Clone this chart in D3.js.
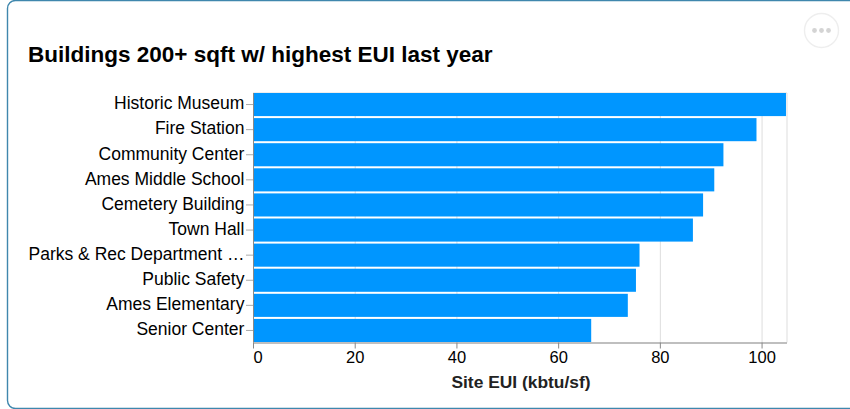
<!DOCTYPE html>
<html>
<head>
<meta charset="utf-8">
<script src="https://cdn.jsdelivr.net/npm/d3@7"></script>
<style>
html,body{margin:0;padding:0;background:#fff;overflow:hidden}
text{font-family:"Liberation Sans",Arial,sans-serif}
</style>
</head>
<body>
<svg id="c" width="850" height="409"></svg>
<script>
const categories = ["Historic Museum","Fire Station","Community Center","Ames Middle School","Cemetery Building","Town Hall","Parks & Rec Department …","Public Safety","Ames Elementary","Senior Center"];
const values = [104.8,99,92.5,90.7,88.5,86.5,76,75.3,73.7,66.5];
const xTicks = [0,20,40,60,80,100];
const titleText = "Buildings 200+ sqft w/ highest EUI last year";
const xTitle = "Site EUI (kbtu/sf)";

const svg = d3.select("#c");
const m = {l:253,r:787,t:93,b:342.5};
const x = d3.scaleLinear().domain([0,105]).range([m.l,m.r]);
const y = d3.scaleBand().domain(categories).range([m.t,m.b-0.5]).paddingInner(0.08).paddingOuter(0);

// card
svg.append("rect").attr("x",7.5).attr("y",0.5).attr("width",870).attr("height",408)
  .attr("rx",8).attr("fill","#fff").attr("stroke","#3f87ad").attr("stroke-width",1.4);

// options button
const bx=821.5, by=30.5;
svg.append("circle").attr("cx",bx).attr("cy",by).attr("r",17).attr("fill","#fff").attr("stroke","#eee").attr("stroke-width",1.4);
[-7,0,7].forEach(d=>svg.append("circle").attr("cx",bx+d).attr("cy",by).attr("r",2.4).attr("fill","#d4d4d4"));

svg.append("text").attr("x",28).attr("y",62).attr("font-size",22.5).attr("font-weight","bold").attr("fill","#000").text(titleText);

// grid
svg.append("g").selectAll("line").data(xTicks).join("line")
  .attr("x1",d=>x(d)+0.5).attr("x2",d=>x(d)+0.5).attr("y1",m.t).attr("y2",m.b)
  .attr("stroke","#ddd").attr("stroke-width",1);
svg.append("line").attr("x1",m.r).attr("x2",m.r).attr("y1",m.t).attr("y2",m.b).attr("stroke","#ddd");
svg.append("line").attr("x1",m.l).attr("x2",m.r).attr("y1",m.t).attr("y2",m.t).attr("stroke","#ddd");

// bars
svg.append("g").selectAll("rect").data(categories).join("rect")
  .attr("x",x(0)).attr("y",d=>y(d)).attr("height",y.bandwidth())
  .attr("width",(d,i)=>x(values[i])-x(0)).attr("fill","#0096ff");

// y axis
const ya = svg.append("g").attr("transform",`translate(${m.l},0)`).call(d3.axisLeft(y).tickSize(7).tickPadding(1.6));
ya.select(".domain").attr("stroke","#888").attr("stroke-width",1).attr("d",`M0.5,${m.t}V${m.b}`);
ya.selectAll(".tick line").attr("stroke","#aaa");
ya.selectAll(".tick text").attr("font-size",17.5).attr("y",-0.8).attr("fill","#000").style("font-family",'"Liberation Sans",Arial,sans-serif');

// x axis
const xa = svg.append("g").attr("transform",`translate(0,${m.b})`).call(d3.axisBottom(x).tickValues(xTicks).tickFormat(d3.format("d")).tickSize(6).tickPadding(3));
xa.select(".domain").attr("stroke","#aaa").attr("stroke-width",1.4).attr("d",`M${m.l},0.5H${m.r}`);
xa.selectAll(".tick line").attr("stroke","#888");
xa.selectAll(".tick text").attr("font-size",16.5).attr("fill","#000").style("font-family",'"Liberation Sans",Arial,sans-serif')
  .attr("text-anchor",d=>d===0?"start":"middle");

svg.append("text").attr("x",521).attr("y",388).attr("text-anchor","middle").attr("font-size",17.4).attr("font-weight","bold").attr("fill","#222").text(xTitle);
</script>
</body>
</html>
